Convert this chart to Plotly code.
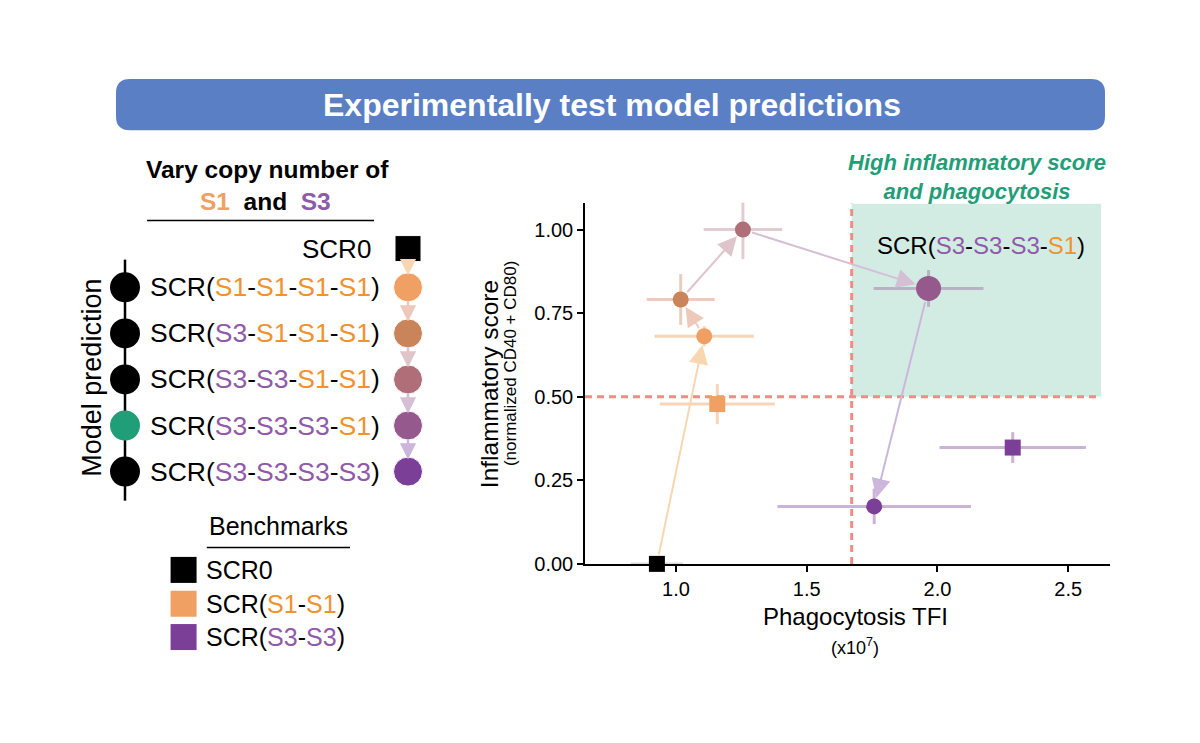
import plotly.graph_objects as go

FONT = "Liberation Sans, Arial, sans-serif"

# measured points: phagocytosis TFI (x1e7) vs inflammatory score
names = ["SCR0", "SCR(S1-S1-S1-S1)", "SCR(S3-S1-S1-S1)", "SCR(S3-S3-S1-S1)",
         "SCR(S3-S3-S3-S1)", "SCR(S3-S3-S3-S3)", "SCR(S1-S1)", "SCR(S3-S3)"]
phago = [0.927, 1.108, 1.018, 1.256, 1.966, 1.758, 1.158, 2.288]
phago_err = [0.10, 0.19, 0.13, 0.15, 0.21, 0.37, 0.22, 0.28]
inflam = [0.0, 0.681, 0.791, 1.0, 0.824, 0.172, 0.478, 0.348]
inflam_err = [0.0, 0.03, 0.076, 0.088, 0.055, 0.053, 0.06, 0.046]
path_order = [0, 1, 2, 3, 4, 5]   # model-prediction series, in copy-number order

phago_cut = 1.672
inflam_cut = 0.5
zone_right = 2.626
zone_top = 1.077

x_ticks = [1.0, 1.5, 2.0, 2.5]
y_ticks = [0.0, 0.25, 0.5, 0.75, 1.0]

# left schematic
row_parts = [["S1", "S1", "S1", "S1"], ["S3", "S1", "S1", "S1"], ["S3", "S3", "S1", "S1"],
             ["S3", "S3", "S3", "S1"], ["S3", "S3", "S3", "S3"]]
best_row = 3
bench_labels = [["SCR0"], ["S1", "S1"], ["S3", "S3"]]

# styles
colors = ["#000000", "#f0a062", "#c9845a", "#b06e78", "#96598e", "#7c3f98", "#f0a062", "#7c3f98"]
err_colors = ["rgba(0,0,0,0.15)", "rgba(240,160,98,0.45)", "rgba(201,132,90,0.4)",
              "rgba(176,110,120,0.35)", "rgba(150,89,142,0.4)", "rgba(124,63,152,0.4)",
              "rgba(240,160,98,0.45)", "rgba(124,63,152,0.4)"]
arrow_colors = ["#f7d6b0", "#ecc9b8", "#dfc4cc", "#d5bfd4", "#cdb6dc"]
symbols = ["square", "circle", "circle", "circle", "circle", "circle", "square", "square"]
sizes = [16, 16, 16, 16, 25, 16, 16, 16]
TXT = {"S1": "#f0922e", "S3": "#8f5aa8"}
GREEN = "#1f9e77"
DASH = "#f08c84"

# figure size and how its pixels land on the page
W, H = 1184, 727
XOFF, YOFF, YSC = 8, 9.3, 0.981


def X(px):
    return (px - XOFF) / W


def Y(py):
    return 1 - (py - YOFF) / YSC / H


def scr(parts):
    return "SCR(" + "-".join(f"<span style='color:{TXT[p]}'>{p}</span>" for p in parts) + ")"


def note(x, y, text, size, color="black", xref="paper", yref="paper", **kw):
    kw.setdefault("xanchor", "center")
    fig.add_annotation(x=x, y=y, xref=xref, yref=yref, text=text, showarrow=False,
                       yanchor="middle", font=dict(size=size, color=color, family=FONT), **kw)


fig = go.Figure()

# main scatter
for i in range(len(names)):
    fig.add_trace(go.Scatter(
        x=[phago[i]], y=[inflam[i]], mode="markers", name=names[i],
        marker=dict(color=colors[i], symbol=symbols[i], size=sizes[i], opacity=1, line=dict(width=0)),
        error_x=dict(type="data", array=[phago_err[i]], color=err_colors[i], thickness=3, width=0),
        error_y=dict(type="data", array=[inflam_err[i]], color=err_colors[i], thickness=3, width=0),
        cliponaxis=False, showlegend=False, xaxis="x", yaxis="y"))

# arrows along the prediction series
for k in range(len(path_order) - 1):
    a, b = path_order[k], path_order[k + 1]
    fig.add_annotation(x=phago[b], y=inflam[b], ax=phago[a], ay=inflam[a],
                       xref="x", yref="y", axref="x", ayref="y", text="",
                       showarrow=True, arrowhead=2, arrowsize=1.9, arrowwidth=2,
                       arrowcolor=arrow_colors[k], standoff=sizes[b] / 2 + 1,
                       startstandoff=sizes[a] / 2)

# zone + threshold lines
fig.add_shape(type="rect", xref="x", yref="y", x0=phago_cut, x1=zone_right, y0=inflam_cut,
              y1=zone_top, fillcolor="rgba(31,158,119,0.2)", line=dict(width=0), layer="below")
fig.add_shape(type="line", xref="x", yref="y", x0=0.652, x1=zone_right, y0=inflam_cut,
              y1=inflam_cut, line=dict(color=DASH, width=3, dash="7px,5px"), layer="below")
fig.add_shape(type="line", xref="x", yref="y", x0=phago_cut, x1=phago_cut, y0=0,
              y1=zone_top, line=dict(color=DASH, width=3, dash="7px,5px"), layer="below")

note(2.166, 0.953, scr(row_parts[best_row]), 24, xref="x", yref="y")
note(X(977), Y(178), "<b><i>High inflammatory score<br>and phagocytosis</i></b>", 22, GREEN)

# axis titles
note(X(489), Y(384), "Inflammatory score", 24.5, textangle=-90)
note(X(510), Y(363), "(normalized CD40 + CD80)", 17, textangle=-90)
note(X(855), Y(615), "Phagocytosis TFI", 24)
note(X(855), Y(645), "(x10<sup>7</sup>)", 18)

# ---- left schematic (hidden subplot, x: 0 = model column, 1 = measured column; y: row index)
ROW0, ROWSTEP = 241.6, 45.9          # page px of row index 0 and row spacing
rows_y = [r + 1 for r in range(len(row_parts))]
scr0_row = 0.16
fig.add_trace(go.Scatter(x=[0, 0], y=[0.40, 5.63], mode="lines", line=dict(color="black", width=2.5),
                         showlegend=False, xaxis="x2", yaxis="y2", hoverinfo="skip"))
fig.add_trace(go.Scatter(x=[0] * len(rows_y), y=rows_y, mode="markers", showlegend=False,
                         marker=dict(size=30, opacity=1,
                                     color=[GREEN if r == best_row else "black"
                                            for r in range(len(row_parts))]),
                         xaxis="x2", yaxis="y2", hoverinfo="skip"))
chain = [scr0_row] + rows_y
for k in range(5):
    fig.add_annotation(x=1, y=chain[k + 1], ax=1, ay=chain[k], xref="x2", yref="y2",
                       axref="x2", ayref="y2", text="", showarrow=True, arrowhead=2,
                       arrowsize=1.3, arrowwidth=2.5, arrowcolor=arrow_colors[k],
                       standoff=12, startstandoff=12)
fig.add_trace(go.Scatter(x=[1] * 6, y=chain, mode="markers", showlegend=False,
                         marker=dict(size=[26] + [29] * 5, color=colors[:6], opacity=1,
                                     symbol=["square"] + ["circle"] * 5),
                         xaxis="x2", yaxis="y2", hoverinfo="skip"))

note(1, scr0_row, "SCR0", 26, xref="x2", yref="y2", xshift=-35, xanchor="right")
for r, parts in enumerate(row_parts):
    note(0, rows_y[r], scr(parts), 26.5, xref="x2", yref="y2", xshift=23, xanchor="left")

note(0.502, -1.56, "<b>Vary copy number of</b>", 24.5, xref="x2", yref="y2")
note(0.495, -0.87, f"<b><span style='color:#f0a062'>S1</span>  and  "
                   f"<span style='color:{TXT['S3']}'>S3</span></b>", 24.5, xref="x2", yref="y2")
fig.add_shape(type="line", xref="x2", yref="y2", x0=0.078, x1=0.88, y0=-0.45, y1=-0.45,
              line=dict(color="black", width=1.5))
note(-0.118, 2.97, "Model prediction", 27, xref="x2", yref="y2", textangle=-90)

# benchmarks legend
bench_y = [7.133, 7.867, 8.59]
note(0.544, 6.17, "Benchmarks", 25, xref="x2", yref="y2")
fig.add_shape(type="line", xref="x2", yref="y2", x0=0.289, x1=0.795, y0=6.647, y1=6.647,
              line=dict(color="black", width=1.5))
fig.add_trace(go.Scatter(x=[0.207] * 3, y=bench_y, mode="markers", showlegend=False,
                         marker=dict(size=26, symbol="square", opacity=1,
                                     color=[colors[0], colors[6], colors[7]]),
                         xaxis="x2", yaxis="y2", hoverinfo="skip"))
for k, parts in enumerate(bench_labels):
    label = parts[0] if len(parts) == 1 else scr(parts)
    note(0.207, bench_y[k], label, 25, xref="x2", yref="y2", xshift=20, xanchor="left")

# ---- title banner
x0, x1, y0, y1 = X(116), X(1105), Y(131), Y(80)
rx, ry = 14 / W, 14 / H
fig.add_shape(type="path", xref="paper", yref="paper", fillcolor="#5a7fc4", line=dict(width=0),
              path=(f"M {x0+rx},{y0} L {x1-rx},{y0} Q {x1},{y0} {x1},{y0+ry} L {x1},{y1-ry} "
                    f"Q {x1},{y1} {x1-rx},{y1} L {x0+rx},{y1} Q {x0},{y1} {x0},{y1-ry} "
                    f"L {x0},{y0+ry} Q {x0},{y0} {x0+rx},{y0} Z"))
note(X(612), Y(106), "<b>Experimentally test model predictions</b>", 32, "white")

# left subplot ranges: x 0 -> page px 125, x 1 -> 408 ; row i -> page px ROW0 + ROWSTEP * i
x2_lo, x2_hi = (XOFF - 125) / 283, (XOFF + 0.4 * W - 125) / 283
y2_top = (YOFF - ROW0) / ROWSTEP
y2_bot = (YOFF + YSC * H - ROW0) / ROWSTEP

fig.update_layout(
    width=W, height=H, margin=dict(l=0, r=0, t=0, b=0),
    paper_bgcolor="white", plot_bgcolor="white", font=dict(family=FONT, color="black"),
    xaxis=dict(domain=[X(585), X(1110)], range=[0.652, 2.66], tickvals=x_ticks, tickformat=".1f",
               showgrid=False, zeroline=False, showline=True, linecolor="black", linewidth=1.5,
               ticks="outside", ticklen=6, tickwidth=1.5, tickcolor="black",
               tickfont=dict(size=20, color="black", family=FONT), anchor="y"),
    yaxis=dict(domain=[Y(563), Y(203.4)], range=[0, 1.08], tickvals=y_ticks, tickformat=".2f",
               showgrid=False, zeroline=False, showline=True, linecolor="black", linewidth=1.5,
               ticks="outside", ticklen=6, tickwidth=1.5, tickcolor="black",
               tickfont=dict(size=20, color="black", family=FONT), anchor="x"),
    xaxis2=dict(domain=[0, 0.4], range=[x2_lo, x2_hi], visible=False, anchor="y2"),
    yaxis2=dict(domain=[0, 1], range=[y2_bot, y2_top], visible=False, anchor="x2"),
)

fig.write_html("out.html")
